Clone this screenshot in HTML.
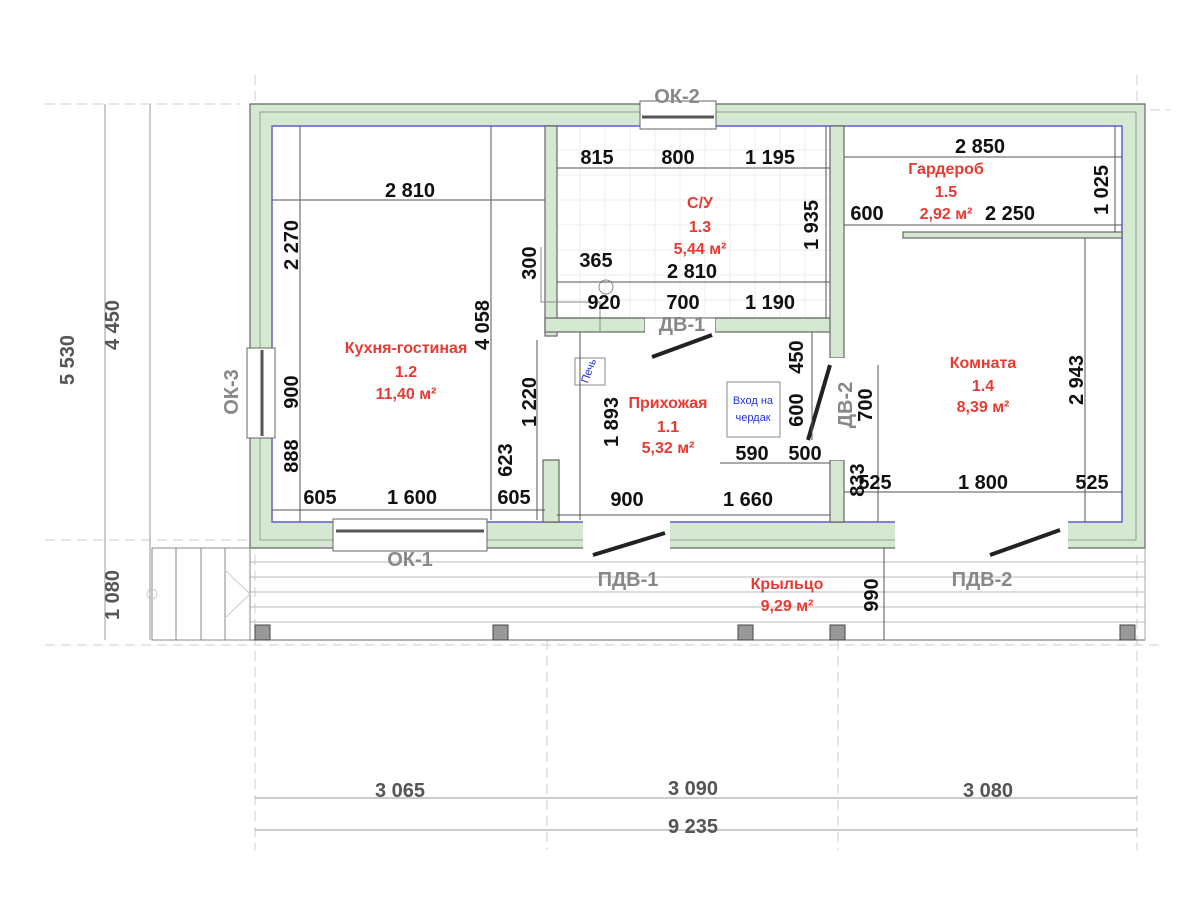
<!DOCTYPE html>
<html><head><meta charset="utf-8"><style>
html,body{margin:0;padding:0;background:#fff;}
svg{display:block;}
.d{font-family:"Liberation Sans",sans-serif;font-weight:bold;font-size:20px;fill:#111;text-anchor:middle;}
.r{font-family:"Liberation Sans",sans-serif;font-weight:bold;font-size:16px;fill:#e83a32;text-anchor:middle;}
.g{font-family:"Liberation Sans",sans-serif;font-weight:bold;font-size:20px;fill:#888;text-anchor:middle;}
.b{font-family:"Liberation Sans",sans-serif;font-size:11px;fill:#2233dd;text-anchor:middle;}
.dl{stroke:#555;stroke-width:1;fill:none;}
.gr{stroke:#ccc;stroke-width:1;stroke-dasharray:10 6;fill:none;}
.w{fill:#d5e8d2;stroke:#666;stroke-width:1.2;}
</style></head><body>
<svg width="1201" height="901" viewBox="0 0 1201 901" xmlns="http://www.w3.org/2000/svg">
<g class="gr">
<line x1="255" y1="75" x2="255" y2="850"/><line x1="547" y1="640" x2="547" y2="850"/>
<line x1="838" y1="640" x2="838" y2="850"/><line x1="1137" y1="75" x2="1137" y2="850"/>
<line x1="45" y1="104" x2="240" y2="104"/><line x1="45" y1="540" x2="250" y2="540"/><line x1="45" y1="645" x2="1160" y2="645"/>
<line x1="1150" y1="110" x2="1170" y2="110"/>
</g>
<g stroke="#eee" stroke-width="1">
<line x1="557" y1="150" x2="830" y2="150"/><line x1="557" y1="175" x2="830" y2="175"/><line x1="557" y1="200" x2="830" y2="200"/><line x1="557" y1="225" x2="830" y2="225"/><line x1="557" y1="250" x2="830" y2="250"/><line x1="557" y1="275" x2="830" y2="275"/><line x1="557" y1="300" x2="830" y2="300"/>
<line x1="580" y1="128" x2="580" y2="318"/><line x1="605" y1="128" x2="605" y2="318"/><line x1="630" y1="128" x2="630" y2="318"/><line x1="655" y1="128" x2="655" y2="318"/><line x1="680" y1="128" x2="680" y2="318"/><line x1="705" y1="128" x2="705" y2="318"/><line x1="730" y1="128" x2="730" y2="318"/><line x1="755" y1="128" x2="755" y2="318"/><line x1="780" y1="128" x2="780" y2="318"/><line x1="805" y1="128" x2="805" y2="318"/>
</g>
<path class="w" fill-rule="evenodd" d="M250,104 H1145 V548 H250 Z M272,126 V522 H1122 V126 Z"/>
<rect x="272" y="126" width="850" height="396" fill="none" stroke="#6b6bd8" stroke-width="1.5"/>
<rect x="260" y="112" width="876" height="428" fill="none" stroke="#888" stroke-width="0.8"/>
<rect class="w" x="545" y="126" width="12" height="210"/>
<rect class="w" x="543" y="460" width="16" height="62"/>
<rect class="w" x="545" y="318" width="100" height="14"/>
<rect class="w" x="715" y="318" width="128" height="14"/>
<rect class="w" x="830" y="126" width="14" height="232"/>
<rect class="w" x="830" y="460" width="14" height="62"/>
<rect class="w" x="903" y="232" width="219" height="6"/>
<rect x="640" y="101" width="76" height="28" fill="#fff" stroke="#666"/>
<line x1="642" y1="117" x2="714" y2="117" stroke="#555" stroke-width="3"/>
<rect x="247" y="348" width="28" height="90" fill="#fff" stroke="#666"/>
<line x1="262" y1="350" x2="262" y2="436" stroke="#555" stroke-width="3"/>
<rect x="333" y="519" width="154" height="32" fill="#fff" stroke="#666"/>
<line x1="336" y1="531" x2="484" y2="531" stroke="#555" stroke-width="3"/>
<rect x="645" y="316" width="70" height="18" fill="#fff"/>
<rect x="828" y="358" width="18" height="102" fill="#fff"/>
<rect x="583" y="519" width="87" height="31" fill="#fff"/>
<rect x="895" y="519" width="173" height="31" fill="#fff"/>
<g stroke="#222" stroke-width="4">
<line x1="652" y1="357" x2="712" y2="335"/><line x1="830" y1="365" x2="808" y2="440"/>
<line x1="593" y1="555" x2="665" y2="533"/><line x1="990" y1="555" x2="1060" y2="530"/>
</g>
<g stroke="#bbb" stroke-width="1">
<line x1="250" y1="562" x2="1145" y2="562"/><line x1="250" y1="577" x2="1145" y2="577"/><line x1="250" y1="592" x2="1145" y2="592"/><line x1="250" y1="607" x2="1145" y2="607"/><line x1="250" y1="622" x2="1145" y2="622"/>
</g>
<line x1="250" y1="640" x2="1145" y2="640" stroke="#666"/>
<line x1="1145" y1="548" x2="1145" y2="640" stroke="#aaa"/>
<g stroke="#888" fill="none">
<rect x="152" y="548" width="98" height="92"/>
<line x1="176" y1="548" x2="176" y2="640"/><line x1="201" y1="548" x2="201" y2="640"/><line x1="225" y1="548" x2="225" y2="640"/>
<polyline points="225,570 250,594 225,618" stroke="#ccc"/><circle cx="152" cy="594" r="5" stroke="#ccc"/>
</g>
<g fill="#999" stroke="#444">
<rect x="255" y="625" width="15" height="15"/><rect x="493" y="625" width="15" height="15"/><rect x="738" y="625" width="15" height="15"/><rect x="830" y="625" width="15" height="15"/><rect x="1120" y="625" width="15" height="15"/>
</g>
<rect x="575" y="358" width="30" height="27" fill="#fff" stroke="#888"/>
<text class="b" transform="translate(592,372) rotate(-70)">Печь</text>
<rect x="727" y="382" width="53" height="55" fill="#fff" stroke="#888"/>
<text class="b" x="753" y="404">Вход на</text><text class="b" x="753" y="421">чердак</text>
<circle cx="606" cy="287" r="7" fill="none" stroke="#888"/>
<polyline points="541,247 541,302 600,302 600,332" fill="none" stroke="#888"/>
<g class="dl">
<line x1="105" y1="104" x2="105" y2="640" stroke="#999"/><line x1="150" y1="104" x2="150" y2="640" stroke="#999"/>
<line x1="255" y1="798" x2="1137" y2="798" stroke="#999"/><line x1="255" y1="830" x2="1137" y2="830" stroke="#999"/>
<line x1="272" y1="200" x2="545" y2="200"/><line x1="300" y1="126" x2="300" y2="522"/>
<line x1="491" y1="126" x2="491" y2="520"/><line x1="537" y1="340" x2="537" y2="520"/>
<line x1="272" y1="510" x2="545" y2="510"/>
<line x1="557" y1="168" x2="830" y2="168"/><line x1="557" y1="282" x2="830" y2="282"/>
<line x1="557" y1="318" x2="830" y2="318"/><line x1="826" y1="126" x2="826" y2="318"/>
<line x1="557" y1="515" x2="830" y2="515"/><line x1="580" y1="332" x2="580" y2="520"/>
<line x1="720" y1="463" x2="830" y2="463"/><line x1="812" y1="332" x2="812" y2="440"/>
<line x1="878" y1="365" x2="878" y2="522"/>
<line x1="844" y1="157" x2="1122" y2="157"/><line x1="844" y1="225" x2="1122" y2="225"/>
<line x1="1115" y1="126" x2="1115" y2="232"/><line x1="1085" y1="238" x2="1085" y2="522"/>
<line x1="844" y1="492" x2="1122" y2="492"/><line x1="884" y1="548" x2="884" y2="640"/>
</g>
<text class="g" x="677" y="103">ОК-2</text>
<text class="g" transform="translate(238,392) rotate(-90)">ОК-3</text>
<text class="g" x="410" y="566">ОК-1</text>
<text class="g" x="682" y="331">ДВ-1</text>
<text class="g" transform="translate(852,405) rotate(-90)">ДВ-2</text>
<text class="g" x="628" y="586">ПДВ-1</text>
<text class="g" x="982" y="586">ПДВ-2</text>
<text class="d" x="410" y="197">2 810</text>
<text class="d" transform="translate(298,245) rotate(-90)">2 270</text>
<text class="d" transform="translate(298,392) rotate(-90)">900</text>
<text class="d" transform="translate(298,456) rotate(-90)">888</text>
<text class="d" transform="translate(489,325) rotate(-90)">4 058</text>
<text class="d" transform="translate(536,263) rotate(-90)">300</text>
<text class="d" transform="translate(536,402) rotate(-90)">1 220</text>
<text class="d" transform="translate(512,460) rotate(-90)">623</text>
<text class="d" x="320" y="504">605</text><text class="d" x="412" y="504">1 600</text><text class="d" x="514" y="504">605</text>
<text class="d" x="597" y="164">815</text><text class="d" x="678" y="164">800</text><text class="d" x="770" y="164">1 195</text>
<text class="d" transform="translate(818,225) rotate(-90)">1 935</text>
<text class="d" x="596" y="267">365</text><text class="d" x="692" y="278">2 810</text>
<text class="d" x="604" y="309">920</text><text class="d" x="683" y="309">700</text><text class="d" x="770" y="309">1 190</text>
<text class="d" transform="translate(618,422) rotate(-90)">1 893</text>
<text class="d" transform="translate(803,357) rotate(-90)">450</text>
<text class="d" transform="translate(803,410) rotate(-90)">600</text>
<text class="d" transform="translate(872,405) rotate(-90)">700</text>
<text class="d" x="752" y="460">590</text><text class="d" x="805" y="460">500</text>
<text class="d" x="627" y="506">900</text><text class="d" x="748" y="506">1 660</text>
<text class="d" x="980" y="153">2 850</text>
<text class="d" x="867" y="220">600</text><text class="d" x="1010" y="220">2 250</text>
<text class="d" transform="translate(1108,190) rotate(-90)">1 025</text>
<text class="d" transform="translate(1083,380) rotate(-90)">2 943</text>
<text class="d" x="875" y="489">525</text><text class="d" transform="translate(864,480) rotate(-90)">833</text>
<text class="d" x="983" y="489">1 800</text><text class="d" x="1092" y="489">525</text>
<text class="d" transform="translate(878,595) rotate(-90)">990</text>
<text class="d" style="fill:#555" transform="translate(74,360) rotate(-90)">5 530</text>
<text class="d" style="fill:#555" transform="translate(119,325) rotate(-90)">4 450</text>
<text class="d" style="fill:#555" transform="translate(119,595) rotate(-90)">1 080</text>
<text class="d" style="fill:#555" x="400" y="797">3 065</text>
<text class="d" style="fill:#555" x="693" y="795">3 090</text>
<text class="d" style="fill:#555" x="988" y="797">3 080</text>
<text class="d" style="fill:#555" x="693" y="833">9 235</text>
<text class="r" x="406" y="353">Кухня-гостиная</text><text class="r" x="406" y="377">1.2</text><text class="r" x="406" y="399">11,40 м²</text>
<text class="r" x="700" y="208">С/У</text><text class="r" x="700" y="232">1.3</text><text class="r" x="700" y="254">5,44 м²</text>
<text class="r" x="668" y="408">Прихожая</text><text class="r" x="668" y="432">1.1</text><text class="r" x="668" y="453">5,32 м²</text>
<text class="r" x="946" y="174">Гардероб</text><text class="r" x="946" y="197">1.5</text><text class="r" x="946" y="219">2,92 м²</text>
<text class="r" x="983" y="368">Комната</text><text class="r" x="983" y="391">1.4</text><text class="r" x="983" y="412">8,39 м²</text>
<text class="r" x="787" y="589">Крыльцо</text><text class="r" x="787" y="611">9,29 м²</text>
</svg>
</body></html>
